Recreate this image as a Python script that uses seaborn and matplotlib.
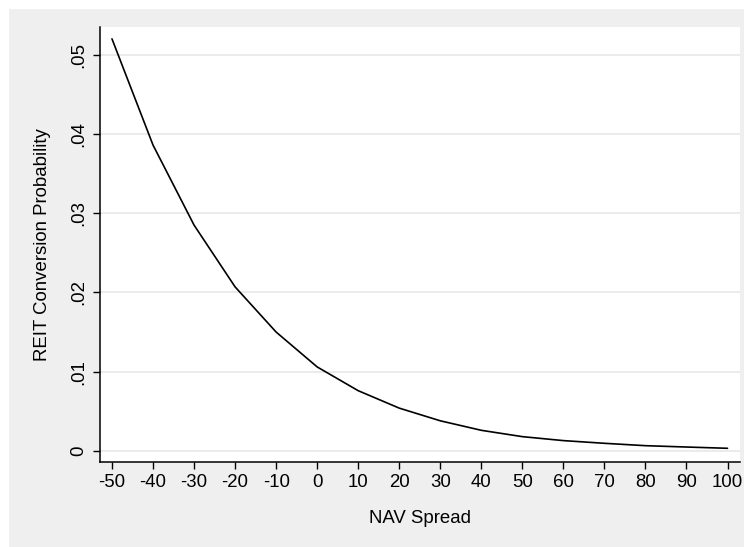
import matplotlib
matplotlib.use("Agg")
import matplotlib.pyplot as plt
import seaborn as sns
import pandas as pd
from matplotlib.patches import Rectangle

nav_spread = [-50, -40, -30, -20, -10, 0, 10, 20, 30, 40, 50, 60, 70, 80, 90, 100]
probability = [0.0520, 0.0386, 0.0285, 0.0207, 0.0150, 0.0106, 0.0076, 0.0054,
               0.0038, 0.0026, 0.0018, 0.0013, 0.00096, 0.00066, 0.00049, 0.00033]
x_ticks = [-50, -40, -30, -20, -10, 0, 10, 20, 30, 40, 50, 60, 70, 80, 90, 100]
y_ticks = [0, 0.01, 0.02, 0.03, 0.04, 0.05]
y_tick_labels = ["0", ".01", ".02", ".03", ".04", ".05"]

df = pd.DataFrame({"NAV Spread": nav_spread, "REIT Conversion Probability": probability})

sns.set_theme(style="white")
plt.rcParams['font.family'] = ['Liberation Sans', 'DejaVu Sans']

W, H = 744, 547
fig = plt.figure(figsize=(W / 100, H / 100), dpi=100)
fig.patch.set_facecolor("white")
bg = Rectangle((9 / W, -0.05), 1.2, (H - 9) / H + 0.05, transform=fig.transFigure,
               facecolor="#efefef", edgecolor="none", zorder=-10)
fig.patches.append(bg)

ax = fig.add_axes([100 / W, (H - 462) / H, (739.5 - 100) / W, (462 - 27) / H])
ax.set_zorder(1)
ax.set_facecolor("white")

sns.lineplot(data=df, x="NAV Spread", y="REIT Conversion Probability", ax=ax,
             color="black", linewidth=1.2)

ax.set_xlim(-52.92, 102.92)
ax.set_ylim(-0.0014, 0.0535)
ax.set_xticks(x_ticks)
ax.set_xticklabels([str(v) for v in x_ticks], fontsize=13.4)
ax.set_yticks(y_ticks)
ax.set_yticklabels(y_tick_labels, fontsize=13.4, rotation=90, va="center")

ax.grid(axis="y", color="#e6e6e6", linewidth=1.1)
ax.grid(axis="x", visible=False)
ax.set_axisbelow(True)

for s in ["top", "right"]:
    ax.spines[s].set_visible(False)
for s in ["left", "bottom"]:
    ax.spines[s].set_color("black")
    ax.spines[s].set_linewidth(1.1)

ax.tick_params(axis="both", which="both", direction="out", length=5, width=1.0,
               color="black", labelcolor="black")
ax.tick_params(axis="x", pad=3.5, bottom=True)
ax.tick_params(axis="y", pad=4, left=True)

ax.set_xlabel("NAV Spread", fontsize=13.4, color="black", labelpad=14)
ax.set_ylabel("REIT Conversion Probability", fontsize=13.4, color="black", labelpad=14)

fig.savefig("out.png", dpi=100)
